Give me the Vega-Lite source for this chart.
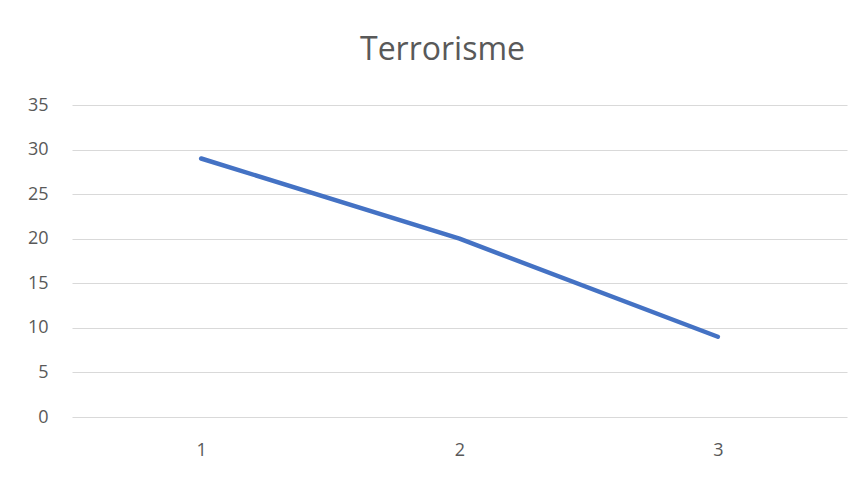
{
  "$schema": "https://vega.github.io/schema/vega-lite/v6.json",
  "autosize": "none",
  "width": 775,
  "height": 312,
  "padding": {"left": 72, "top": 105, "right": 21, "bottom": 60},
  "background": "white",
  "title": {
    "text": "Terrorisme",
    "anchor": "middle",
    "frame": "group",
    "font": "Open Sans",
    "fontSize": 32,
    "fontWeight": "normal",
    "color": "#595959",
    "baseline": "alphabetic",
    "offset": 4,
    "dx": -17
  },
  "config": {
    "view": {"stroke": null},
    "font": "Open Sans"
  },
  "data": {
    "values": [
      {"cat": "1", "value": 29},
      {"cat": "2", "value": 20},
      {"cat": "3", "value": 9}
    ]
  },
  "mark": {"type": "line", "color": "#4472C4", "strokeWidth": 4.5, "strokeCap": "round", "strokeJoin": "round"},
  "encoding": {
    "x": {
      "field": "cat",
      "type": "ordinal",
      "scale": {"type": "point", "padding": 0.5},
      "axis": {
        "title": null,
        "domain": false,
        "ticks": false,
        "grid": false,
        "labelAngle": 0,
        "labelFontSize": 18,
        "labelColor": "#595959",
        "labelFont": "Open Sans",
        "labelPadding": 24
      }
    },
    "y": {
      "field": "value",
      "type": "quantitative",
      "scale": {"domain": [0, 35], "nice": false},
      "axis": {
        "title": null,
        "domain": false,
        "ticks": false,
        "values": [0, 5, 10, 15, 20, 25, 30, 35],
        "gridColor": "#d9d9d9",
        "gridWidth": 1,
        "labelFontSize": 18,
        "labelColor": "#595959",
        "labelFont": "Open Sans",
        "labelPadding": 24
      }
    }
  }
}
